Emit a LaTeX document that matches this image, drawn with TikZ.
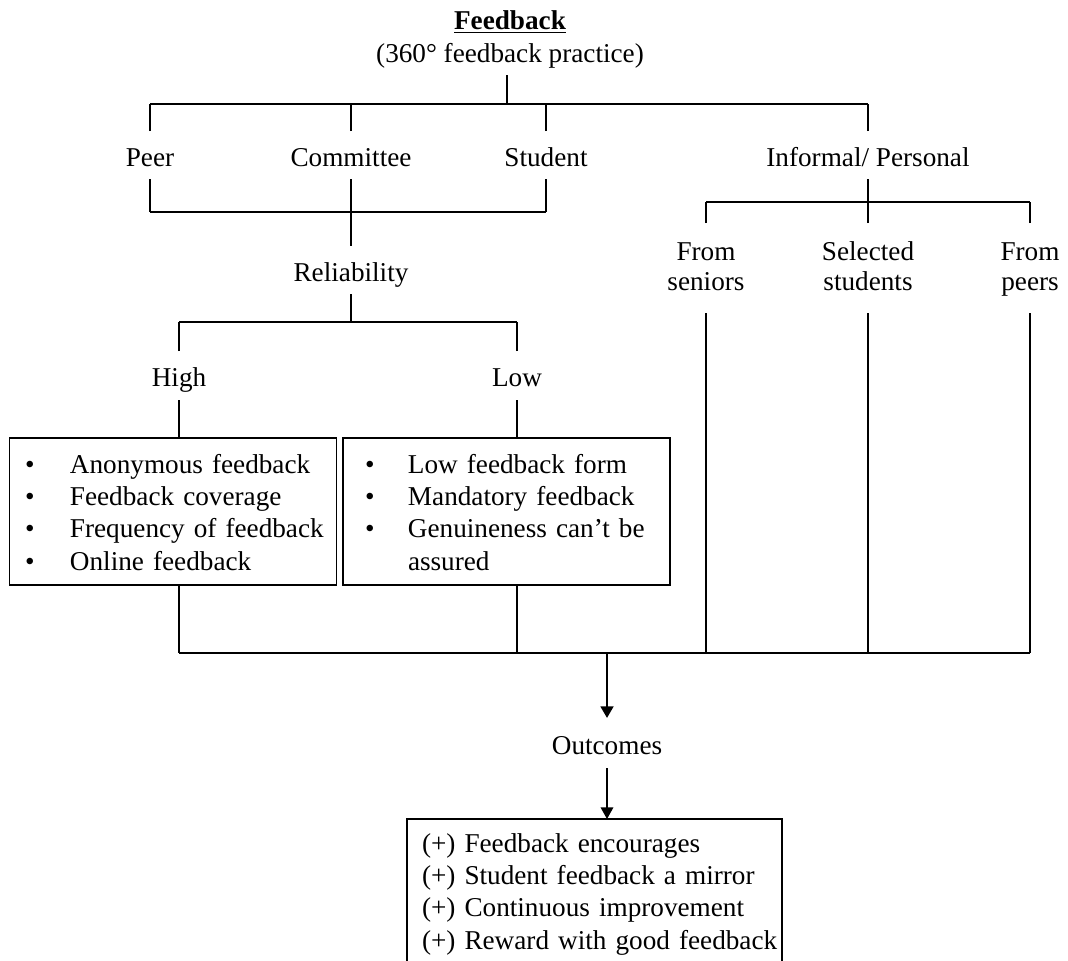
\documentclass[tikz,border=0pt]{standalone}
\usepackage{fontspec}
\setmainfont{Liberation Serif}
\usetikzlibrary{arrows.meta}
% bullet centred at #1 inside a column of width #2
\newcommand\bulletcol[2]{\makebox[#2][l]{\hspace*{\dimexpr#1-2.4pt\relax}\textbullet}}

\begin{document}
\begin{tikzpicture}[x=0.5pt,y=-0.5pt,
  font=\fontsize{13.6}{16.2}\selectfont,
  lbl/.style={inner sep=0pt, outer sep=0pt, text height=12pt, text depth=1pt,
              minimum height=#1},
  lbl/.default=24pt,
  lbltwo/.style={inner sep=0pt, outer sep=0pt, text width=70pt, align=center,
                 font=\fontsize{13.6}{15}\selectfont,
                 text height=12pt, text depth=20pt, minimum height=45pt},
  vline/.style={line width=0.6pt},
  hbar/.style={line width=1pt},
  box/.style={draw, line width=0.85pt, inner sep=0pt, outer sep=0pt, align=left},
  tip/.style={-{Triangle[length=5.8pt,width=6.3pt]}},
]
\useasboundingbox (0,0) rectangle (1068,960);
\clip (0,0) rectangle (1068,960);

% heading
\node[anchor=base] (title) at (510,29) {\underline{\textbf{Feedback}}};
\node[anchor=base, inner xsep=0pt, inner ysep=3.5pt, text depth=3pt] (sub) at (510,62)
  {(360° feedback practice)};

% first level
\node[lbl] (peer) at (150,155) {Peer};
\node[lbl] (comm) at (351,155) {Committee};
\node[lbl] (stud) at (546,155) {Student};
\node[lbl] (inf)  at (868,155) {Informal/ Personal};

\coordinate (topbar) at (507,103.5);
\draw[vline] (sub.south -| topbar) -- (topbar);
\draw[hbar] (peer.north |- topbar) -- (inf.north |- topbar);
\foreach \n in {peer,comm,stud,inf}
  \draw[vline] (\n.north) -- (\n.north |- topbar);

% formal channels join into reliability
\node[lbl] (rel) at (351,270) {Reliability};
\coordinate (grp) at (351,212);
\draw[hbar] (peer.south |- grp) -- (stud.south |- grp);
\draw[vline] (peer.south) -- (peer.south |- grp);
\draw[vline] (stud.south) -- (stud.south |- grp);
\draw[vline] (comm.south) -- (rel.north);

\node[lbl=24.5pt] (high) at (179,375.5) {High};
\node[lbl=24.5pt] (low)  at (517,375.5) {Low};
\coordinate (relbar) at (351,322);
\draw[vline] (rel.south) -- (relbar);
\draw[hbar] (high.north |- relbar) -- (low.north |- relbar);
\draw[vline] (high.north) -- (high.north |- relbar);
\draw[vline] (low.north) -- (low.north |- relbar);

% reliability boxes
\node[box, anchor=north west, text width=163.5pt, text height=17.5pt, text depth=56pt]
  (hbox) at (9.5,438) {%
  \bulletcol{10.25pt}{30.25pt}Anonymous feedback\\
  \bulletcol{10.25pt}{30.25pt}Feedback coverage\\
  \bulletcol{10.25pt}{30.25pt}Frequency of feedback\\
  \bulletcol{10.25pt}{30.25pt}Online feedback};
\node[box, anchor=north west, text width=163.5pt, text height=17.5pt, text depth=56pt]
  (lbox) at (343,438) {%
  \bulletcol{13.5pt}{32.5pt}Low feedback form\\
  \bulletcol{13.5pt}{32.5pt}Mandatory feedback\\
  \bulletcol{13.5pt}{32.5pt}Genuineness can’t be\\
  \hspace*{32.5pt}assured};
\draw[vline] (high.south) -- (high.south |- hbox.north);
\draw[vline] (low.south) -- (low.south |- lbox.north);

% informal channels
\node[lbltwo] (sen) at (706,268) {From\\seniors};
\node[lbltwo] (sel) at (868,268) {Selected\\students};
\node[lbltwo] (prs) at (1030,268) {From\\peers};
\coordinate (infbar) at (868,202);
\draw[vline] (inf.south) -- (infbar);
\draw[hbar] (sen.north |- infbar) -- (prs.north |- infbar);
\foreach \n in {sen,sel,prs}
  \draw[vline] (\n.north) -- (\n.north |- infbar);

% everything merges into outcomes
\coordinate (merge) at (607,653);
\draw[hbar] (high.south |- merge) -- (prs.south |- merge);
\draw[vline] (high.south |- hbox.south) -- (high.south |- merge);
\draw[vline] (low.south |- lbox.south) -- (low.south |- merge);
\foreach \n in {sen,sel,prs}
  \draw[vline] (\n.south) -- (\n.south |- merge);

\node[lbl=25pt] (outc) at (607,743) {Outcomes};
\draw[tip, line width=1.3pt] (merge) -- (outc.north);

\node[box, anchor=north west, text width=187.5pt,
      text height=16.5pt, text depth=64pt] (obox) at (407,819) {%
  \hspace*{7.5pt}(+) Feedback encourages\\
  \hspace*{7.5pt}(+) Student feedback a mirror\\
  \hspace*{7.5pt}(+) Continuous improvement\\
  \hspace*{7.5pt}(+) Reward with good feedback};
\draw[tip, vline] (outc.south) -- (outc.south |- obox.north);
\end{tikzpicture}
\end{document}
